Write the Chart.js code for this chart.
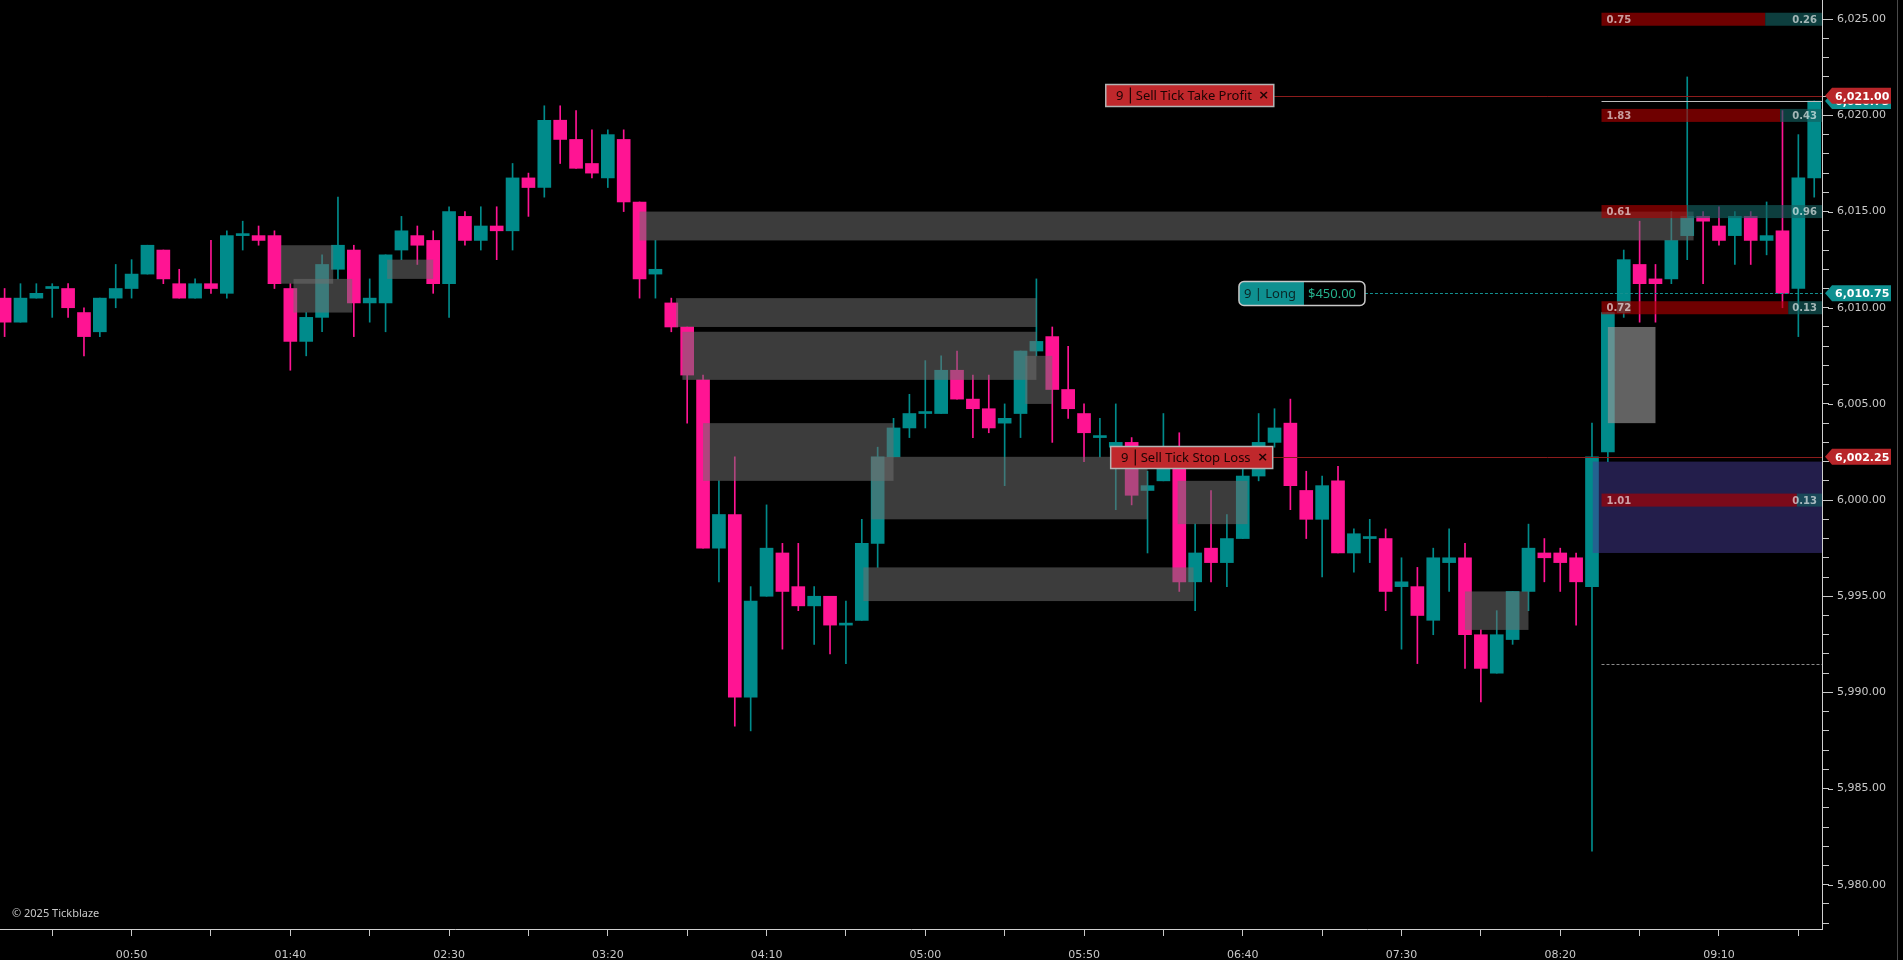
<!DOCTYPE html>
<html>
<head>
<meta charset="utf-8">
<script src="https://cdn.jsdelivr.net/npm/chart.js@4.4.1/dist/chart.umd.min.js"></script>
<style>
  html, body { margin: 0; padding: 0; background: #000; overflow: hidden; }
  #wrap { width: 1903px; height: 960px; position: relative; }
</style>
</head>
<body>
<div id="wrap"><canvas id="grafico"></canvas></div>
<script>
// 5 minute bars, 00:10 -> 09:40
const times = ['00:10','00:15','00:20','00:25','00:30','00:35','00:40','00:45','00:50','00:55',
  '01:00','01:05','01:10','01:15','01:20','01:25','01:30','01:35','01:40','01:45',
  '01:50','01:55','02:00','02:05','02:10','02:15','02:20','02:25','02:30','02:35',
  '02:40','02:45','02:50','02:55','03:00','03:05','03:10','03:15','03:20','03:25',
  '03:30','03:35','03:40','03:45','03:50','03:55','04:00','04:05','04:10','04:15',
  '04:20','04:25','04:30','04:35','04:40','04:45','04:50','04:55','05:00','05:05',
  '05:10','05:15','05:20','05:25','05:30','05:35','05:40','05:45','05:50','05:55',
  '06:00','06:05','06:10','06:15','06:20','06:25','06:30','06:35','06:40','06:45',
  '06:50','06:55','07:00','07:05','07:10','07:15','07:20','07:25','07:30','07:35',
  '07:40','07:45','07:50','07:55','08:00','08:05','08:10','08:15','08:20','08:25',
  '08:30','08:35','08:40','08:45','08:50','08:55','09:00','09:05','09:10','09:15',
  '09:20','09:25','09:30','09:35','09:40'];

const opens = [6010.5,6009.25,6010.5,6011,6011,6009.75,6008.75,6010.5,6011,6011.75,
  6013,6011.25,6010.5,6011.25,6010.75,6013.75,6013.75,6013.75,6011,6008.25,
  6009.5,6012,6013,6010.25,6010.25,6013,6013.75,6013.5,6011.25,6014.75,
  6013.5,6014.25,6014,6016.75,6016.25,6019.75,6018.75,6017.5,6016.75,6018.75,
  6015.5,6011.75,6010.25,6009,6006.25,5997.5,5999.25,5989.75,5995,5997.25,
  5995.5,5994.5,5995,5993.5,5993.75,5997.75,6002.25,6003.75,6004.5,6004.5,
  6006.75,6005.25,6004.75,6004,6004.5,6007.75,6008.5,6005.75,6004.5,6003.25,
  6002.75,6003,6000.5,6001,6002.25,5995.75,5997.5,5996.75,5998,6001.25,
  6003,6004,6000.5,5999,6001,5997.25,5998,5998,5995.5,5995.5,
  5993.75,5996.75,5997,5993,5991,5992.75,5995.25,5997.25,5997.25,5997,
  5995.5,6002.5,6009.75,6012.25,6011.5,6011.5,6013.75,6014.75,6014.25,6013.75,
  6014.75,6013.5,6014,6011,6016.75];
const highs = [6011,6011.25,6011.25,6011.25,6011.25,6010,6010.5,6012.25,6012.5,6013.25,
  6013,6012,6011.5,6013.5,6014,6014.5,6014.25,6014,6011.25,6009.75,
  6012.75,6015.75,6013.25,6011.5,6012.75,6014.75,6014.25,6014,6015.25,6015,
  6015.25,6015.25,6017.5,6017,6020.5,6020.5,6020.25,6019.25,6019.25,6019.25,
  6015.5,6013.5,6010.5,6009,6006.5,6001,6002.25,5995.5,5999.75,5997.75,
  5997.75,5995.5,5995,5994.75,5999,6002.75,6004.25,6005.5,6007.25,6007.5,
  6007.75,6006.5,6006.5,6005,6007.75,6011.5,6009,6008,6005,6004.25,
  6005,6003.25,6001.5,6004.5,6003.5,5998.75,6000.5,5999.25,6001.75,6004.5,
  6004.75,6005.25,6001.5,6001.25,6001.75,5998.5,5999,5998.5,5997,5996.5,
  5997.5,5998.5,5997.75,5993.25,5994.25,5995.25,5998.75,5998,5997.5,5997.25,
  6004,6009.75,6013,6014.5,6012.25,6015,6022,6015,6015.25,6015,
  6015,6015.5,6020.25,6019,6020.75];
const lows = [6008.5,6009.25,6010.5,6009.5,6009.5,6007.5,6008.5,6010,6010.5,6011.75,
  6011.25,6010.5,6010.5,6010.75,6010.5,6013,6013.25,6011,6006.75,6007.5,
  6008.75,6011.5,6008.5,6009.25,6008.75,6012.5,6012.25,6010.75,6009.5,6013.25,
  6013,6012.5,6013,6014.75,6015.75,6017.5,6017.25,6016.75,6016.25,6015,
  6010.5,6010.5,6008.75,6004,5997.5,5995.75,5988.25,5988,5995,5992.25,
  5994.25,5992.5,5992,5991.5,5993.75,5996.5,6002.25,6003.25,6003.75,6004.5,
  6005.25,6003.25,6003.5,6000.75,6003.25,6007.5,6003,6004.25,6002,6002.25,
  5999.5,5999.75,5997.25,6001,5995.25,5994.25,5995.75,5995.5,5998,6001,
  6002.75,5999.5,5998,5996,5997.25,5996.25,5996.75,5994.25,5992.25,5991.5,
  5993,5995.25,5991.25,5989.5,5991,5992.5,5994.25,5995.75,5995.25,5993.5,
  5981.75,6002,6009.5,6009.25,6009.25,6011.25,6012.5,6011.25,6013.25,6012.25,
  6012.25,6012.75,6010,6008.5,6015.75];
const closes = [6009.25,6010.5,6010.75,6011,6010,6008.5,6010.5,6011,6011.75,6013.25,
  6011.5,6010.5,6011.25,6011,6013.75,6013.75,6013.5,6011.25,6008.25,6009.5,
  6012.25,6013.25,6010.25,6010.5,6012.75,6014,6013.25,6011.25,6015,6013.5,
  6014.25,6014,6016.75,6016.25,6019.75,6018.75,6017.25,6017,6019,6015.5,
  6011.5,6012,6009,6006.5,5997.5,5999.25,5989.75,5994.75,5997.5,5995.25,
  5994.5,5995,5993.5,5993.5,5997.75,6002.25,6003.75,6004.5,6004.5,6006.75,
  6005.25,6004.75,6003.75,6004.25,6007.75,6008.25,6005.75,6004.75,6003.5,6003.25,
  6003,6000.25,6000.75,6002.25,5995.75,5997.25,5996.75,5998,6001.25,6003,
  6003.75,6000.75,5999,6000.75,5997.25,5998.25,5998,5995.25,5995.75,5994,
  5997,5997,5993,5991.25,5993,5995.25,5997.5,5997,5996.75,5995.75,
  6002.25,6009.75,6012.5,6011.25,6011.25,6013.5,6014.75,6014.5,6013.5,6014.75,
  6013.5,6013.75,6010.75,6016.75,6020.75];

const timeTicks = ['00:50','01:40','02:30','03:20','04:10','05:00','05:50','06:40','07:30','08:20','09:10'];
const priceTicks = [5980,5985,5990,5995,6000,6005,6010,6015,6020,6025];

// zones: [from bar, to bar, top price, bottom price]
const zones = [
  [17.4, 20.7, 6013.25, 6011.25],
  [18.2, 21.9, 6011.5, 6009.75],
  [24.1, 27.0, 6012.5, 6011.5],
  [40.0, 106.4, 6015.0, 6013.5],
  [42.3, 65.0, 6010.5, 6009.0],
  [42.7, 65.0, 6008.75, 6006.25],
  [64.3, 66.0, 6007.5, 6005.0],
  [44.0, 56.0, 6004.0, 6001.0],
  [54.6, 72.0, 6002.25, 5999.0],
  [54.1, 74.9, 5996.5, 5994.75],
  [73.9, 78.3, 6001.0, 5998.75],
  [92.0, 96.0, 5995.25, 5993.25]
];
const openGap = [101.0, 104.0, 6009.0, 6004.0];
const entryZone = [100.05, 115, 6002.0, 5997.25];

// volume at price, sellers / buyers
const profilePrices = [6025, 6020, 6015, 6010, 6000];
const profileSell = [0.75, 1.83, 0.61, 0.72, 1.01];
const profileBuy = [0.26, 0.43, 0.96, 0.13, 0.13];

const takeProfit = 6021.00;
const entryPrice = 6010.75;
const stopLoss = 6002.25;
const lastPrice = 6020.75;
const lowLevel = 5991.5;

const UP = '#008b8b';
const DOWN = '#ff1493';
const colores = opens.map((o, i) => closes[i] >= o ? UP : DOWN);

function minutos(i) {
    const p = times[i].split(':');
    return (+p[0]) * 60 + (+p[1]);
}
function fmt(v) {
    return v.toLocaleString('en-US', { minimumFractionDigits: 2, maximumFractionDigits: 2 });
}

function tag(ctx, xa, py, text, color) {
    ctx.beginPath();
    ctx.moveTo(xa + 3, py);
    ctx.lineTo(xa + 10, py - 8);
    ctx.lineTo(xa + 69, py - 8);
    ctx.lineTo(xa + 69, py + 8);
    ctx.lineTo(xa + 10, py + 8);
    ctx.closePath();
    ctx.fillStyle = color;
    ctx.fill();
    ctx.fillStyle = '#ffffff';
    ctx.font = 'bold 11px "DejaVu Sans"';
    ctx.textAlign = 'left';
    ctx.textBaseline = 'middle';
    ctx.fillText(text, xa + 13, py + 1);
}

function orderBox(ctx, left, py, w, label, showX) {
    const h = 22, top = py - h / 2;
    ctx.fillStyle = '#c0282c';
    ctx.fillRect(left, top, w, h);
    ctx.strokeStyle = '#b4b4b4';
    ctx.lineWidth = 1.5;
    ctx.strokeRect(left, top, w, h);
    ctx.fillStyle = '#1c0404';
    ctx.font = '13px "Noto Sans"';
    ctx.textBaseline = 'middle';
    ctx.textAlign = 'center';
    ctx.fillText('9', left + 14, py + 1);
    ctx.fillRect(left + 24, top + 3, 1.2, h - 6);
    ctx.textAlign = 'left';
    ctx.fillText(label, left + 30, py + 1);
    if (showX) {
        ctx.font = 'bold 13px "DejaVu Sans"';
        ctx.textAlign = 'center';
        ctx.fillText('×', left + w - 10, py);
    }
}

const overlays = {
    id: 'overlays',
    afterDatasetsDraw(chart) {
        const { ctx, chartArea: a, scales: { x, y } } = chart;
        ctx.save();
        ctx.beginPath();
        ctx.rect(a.left, a.top, a.right - a.left, a.bottom - a.top);
        ctx.clip();

        ctx.fillStyle = 'rgba(110,110,110,0.55)';
        zones.forEach(z => {
            const x0 = x.getPixelForValue(z[0]), x1 = x.getPixelForValue(z[1]);
            const y0 = y.getPixelForValue(z[2]), y1 = y.getPixelForValue(z[3]);
            ctx.fillRect(x0, y0, x1 - x0, y1 - y0);
        });
        ctx.fillStyle = 'rgba(150,150,150,0.65)';
        ctx.fillRect(x.getPixelForValue(openGap[0]), y.getPixelForValue(openGap[2]),
            x.getPixelForValue(openGap[1]) - x.getPixelForValue(openGap[0]),
            y.getPixelForValue(openGap[3]) - y.getPixelForValue(openGap[2]));
        ctx.fillStyle = 'rgba(70,60,150,0.5)';
        ctx.fillRect(x.getPixelForValue(entryZone[0]), y.getPixelForValue(entryZone[2]),
            a.right - x.getPixelForValue(entryZone[0]),
            y.getPixelForValue(entryZone[3]) - y.getPixelForValue(entryZone[2]));

        // profile rows
        const pl = x.getPixelForValue(100.6), pw = a.right - pl;
        profilePrices.forEach((p, i) => {
            const py = y.getPixelForValue(p);
            const tot = profileSell[i] + profileBuy[i];
            const ws = pw * profileSell[i] / tot;
            ctx.fillStyle = 'rgba(170,0,0,0.65)';
            ctx.fillRect(pl, py - 6.5, ws, 13);
            ctx.fillStyle = 'rgba(20,95,95,0.65)';
            ctx.fillRect(pl + ws, py - 6.5, pw - ws, 13);
            ctx.fillStyle = 'rgba(255,255,255,0.62)';
            ctx.font = 'bold 10px "DejaVu Sans"';
            ctx.textBaseline = 'middle';
            ctx.textAlign = 'left';
            ctx.fillText(profileSell[i].toFixed(2), pl + 5, py + 1);
            ctx.textAlign = 'right';
            ctx.fillText(profileBuy[i].toFixed(2), a.right - 5, py + 1);
        });

        // lines
        const yl = Math.round(y.getPixelForValue(lastPrice)) + 0.5;
        ctx.strokeStyle = '#bdbdbd';
        ctx.lineWidth = 1;
        ctx.beginPath(); ctx.moveTo(pl, yl); ctx.lineTo(a.right, yl); ctx.stroke();

        const yd = Math.round(y.getPixelForValue(lowLevel)) + 0.5;
        ctx.strokeStyle = '#8a8a8a';
        ctx.setLineDash([3, 2]);
        ctx.beginPath(); ctx.moveTo(pl, yd); ctx.lineTo(a.right, yd); ctx.stroke();

        const tpLeft = x.getPixelForValue(69.37), slLeft = x.getPixelForValue(69.68);
        const lgLeft = x.getPixelForValue(77.76);
        const ye = Math.round(y.getPixelForValue(entryPrice)) + 0.5;
        ctx.strokeStyle = '#138f8f';
        ctx.beginPath(); ctx.moveTo(lgLeft + 126, ye); ctx.lineTo(a.right, ye); ctx.stroke();
        ctx.setLineDash([]);

        const yt = Math.round(y.getPixelForValue(takeProfit)) + 0.5;
        const ys = Math.round(y.getPixelForValue(stopLoss)) + 0.5;
        ctx.strokeStyle = '#8c1c1c';
        ctx.beginPath(); ctx.moveTo(tpLeft + 168, yt); ctx.lineTo(a.right, yt); ctx.stroke();
        ctx.beginPath(); ctx.moveTo(slLeft + 162, ys); ctx.lineTo(a.right, ys); ctx.stroke();

        orderBox(ctx, tpLeft, yt - 1, 168, 'Sell Tick Take Profit', true);
        orderBox(ctx, slLeft, ys, 162, 'Sell Tick Stop Loss', true);

        // long position box
        const lh = 24, lt = ye - lh / 2;
        ctx.beginPath();
        ctx.roundRect(lgLeft, lt, 126, lh, 5);
        ctx.fillStyle = '#000';
        ctx.fill();
        ctx.save();
        ctx.clip();
        ctx.fillStyle = '#0e9090';
        ctx.fillRect(lgLeft, lt, 65, lh);
        ctx.restore();
        ctx.strokeStyle = '#c8c8c8';
        ctx.lineWidth = 1.5;
        ctx.stroke();
        ctx.font = '13px "Noto Sans"';
        ctx.textBaseline = 'middle';
        ctx.textAlign = 'left';
        ctx.fillStyle = '#0a2626';
        ctx.fillText('9 | Long', lgLeft + 5, ye + 1);
        ctx.fillStyle = '#25b08c';
        ctx.fillText('$450.00', lgLeft + 69, ye + 1);

        ctx.restore();
    },
    afterDraw(chart) {
        const { ctx, chartArea: a, scales: { y } } = chart;
        ctx.save();
        // longer marks on labelled prices
        ctx.fillStyle = '#c8c8c8';
        priceTicks.forEach(p => {
            ctx.fillRect(a.right + 6, Math.round(y.getPixelForValue(p)), 5, 1);
        });

        tag(ctx, a.right, y.getPixelForValue(lastPrice), fmt(lastPrice), '#0e9090');
        tag(ctx, a.right, y.getPixelForValue(takeProfit) - 0.5, fmt(takeProfit), '#b8262a');
        tag(ctx, a.right, y.getPixelForValue(entryPrice), fmt(entryPrice), '#0e9090');
        tag(ctx, a.right, y.getPixelForValue(stopLoss), fmt(stopLoss), '#b8262a');

        ctx.fillStyle = '#c8c8c8';
        ctx.font = '11px "Noto Sans"';
        ctx.textAlign = 'left';
        ctx.textBaseline = 'middle';
        ctx.fillText('© 2025 Tickblaze', 12, 914);

        ctx.fillStyle = '#4a4a4a';
        ctx.fillRect(chart.width - 6, 0, 1, chart.height);
        ctx.restore();
    }
};

const ctx = document.getElementById('grafico').getContext('2d');
new Chart(ctx, {
    type: 'bar',
    data: {
        datasets: [
            {
                label: 'mechas',
                data: lows.map((l, i) => ({ x: i, y: [l, highs[i]] })),
                backgroundColor: colores,
                barThickness: 1,
                grouped: false,
                order: 2
            },
            {
                label: 'cuerpos',
                data: opens.map((o, i) => ({ x: i, y: [o, closes[i]] })),
                backgroundColor: colores,
                barThickness: 13,
                minBarLength: 2,
                grouped: false,
                order: 1
            }
        ]
    },
    options: {
        responsive: true,
        maintainAspectRatio: false,
        animation: false,
        layout: { padding: 0 },
        plugins: { legend: { display: false }, tooltip: { enabled: false } },
        scales: {
            x: {
                type: 'linear',
                min: -0.29,
                max: 114.49,
                offset: false,
                afterBuildTicks: s => {
                    s.ticks = times.map((t, i) => ({ value: i })).filter(t => minutos(t.value) % 25 === 0);
                },
                afterFit: s => { s.height = 31; s.paddingLeft = 0; s.paddingRight = 0; },
                ticks: {
                    autoSkip: false,
                    maxRotation: 0,
                    color: '#c8c8c8',
                    padding: 13,
                    font: { family: 'DejaVu Sans', size: 11 },
                    callback: v => timeTicks.includes(times[v]) ? times[v] : ''
                },
                grid: { drawOnChartArea: false, tickLength: 7, tickColor: '#c8c8c8', offset: false },
                border: { color: '#d0d0d0' }
            },
            y: {
                type: 'linear',
                position: 'right',
                min: 5977.7,
                max: 6026.0,
                afterBuildTicks: s => {
                    const t = [];
                    for (let v = 5978; v <= 6025; v++) t.push({ value: v });
                    s.ticks = t;
                },
                afterFit: s => { s.width = 81; s.paddingTop = 0; s.paddingBottom = 0; },
                ticks: {
                    autoSkip: false,
                    color: '#c8c8c8',
                    padding: 8,
                    font: { family: 'DejaVu Sans', size: 11 },
                    callback: v => priceTicks.includes(v) ? fmt(v) : ''
                },
                grid: { drawOnChartArea: false, tickLength: 7, tickColor: '#c8c8c8' },
                border: { color: '#d0d0d0' }
            }
        }
    },
    plugins: [overlays]
});
</script>
</body>
</html>
